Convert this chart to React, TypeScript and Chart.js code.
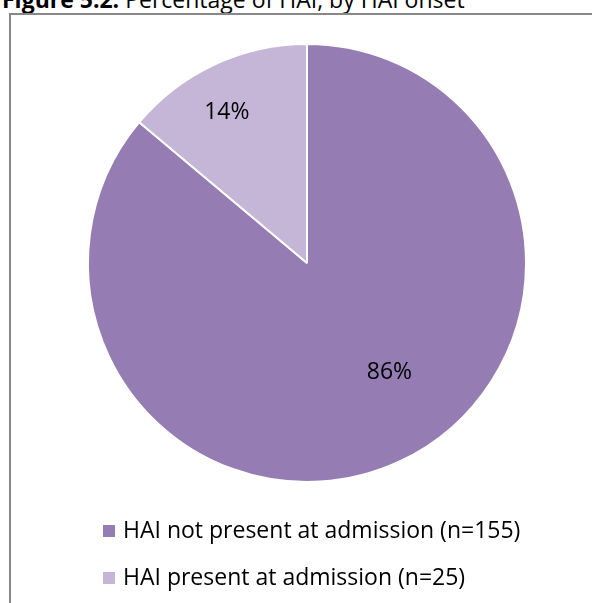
import React, { useEffect, useRef } from "react";
import { Chart, registerables } from "chart.js";

Chart.register(...registerables);

const categories = ["HAI not present at admission (n=155)", "HAI present at admission (n=25)"];
const counts = [155, 25];
const sliceColors = ["#957DB3", "#C5B6D8"];

const FONT = "'Open Sans', 'DejaVu Sans', sans-serif";

const sliceLabelPlugin = {
  id: "sliceLabels",
  afterDatasetsDraw(chart: any, _args: any, opts: any) {
    const meta = chart.getDatasetMeta(0);
    const ctx = chart.ctx;
    const data = chart.data.datasets[0].data as number[];
    const total = data.reduce((a, b) => a + b, 0);
    ctx.save();
    ctx.fillStyle = "#000";
    ctx.font = `${opts.size}px ${FONT}`;
    ctx.textAlign = "center";
    ctx.textBaseline = "middle";
    meta.data.forEach((arc: any, i: number) => {
      const p = arc.getProps(["startAngle", "endAngle", "outerRadius", "x", "y"], true);
      const a = p.startAngle + (p.endAngle - p.startAngle) * opts.angleFrac[i];
      const r = p.outerRadius * opts.radiusFrac[i];
      const pct = Math.round((data[i] / total) * 100) + "%";
      ctx.fillText(pct, p.x + Math.cos(a) * r, p.y + Math.sin(a) * r);
    });
    ctx.restore();
  },
};

const boxLegendPlugin = {
  id: "boxLegend",
  afterDraw(chart: any, _args: any, opts: any) {
    const ctx = chart.ctx;
    const labels = chart.data.labels as string[];
    const colors = chart.data.datasets[0].backgroundColor as string[];
    ctx.save();
    ctx.font = `${opts.size}px ${FONT}`;
    ctx.textBaseline = "middle";
    ctx.textAlign = "left";
    labels.forEach((lab, i) => {
      const cy = opts.top + i * opts.rowGap;
      ctx.fillStyle = colors[i];
      ctx.fillRect(opts.left, cy - opts.box / 2, opts.box, opts.box);
      ctx.fillStyle = "#000";
      ctx.fillText(lab, opts.left + opts.box + opts.gap, cy);
    });
    ctx.restore();
  },
};

export default function App() {
  const ref = useRef<HTMLCanvasElement | null>(null);

  useEffect(() => {
    if (!ref.current) return;
    const chart = new Chart(ref.current, {
      type: "pie",
      data: {
        labels: categories,
        datasets: [
          {
            data: counts,
            backgroundColor: sliceColors,
            borderColor: "#ffffff",
            borderWidth: 2,
          },
        ],
      },
      options: {
        responsive: false,
        animation: false,
        layout: { padding: { left: 87, right: 65, top: 43, bottom: 120 } },
        plugins: {
          legend: { display: false },
          tooltip: { enabled: false },
          title: { display: false },
          sliceLabels: { size: 23, angleFrac: [0.461, 0.44], radiusFrac: [0.624, 0.78] },
          boxLegend: { size: 23, left: 103, top: 531, rowGap: 47, box: 12, gap: 8 },
        } as any,
      },
      plugins: [sliceLabelPlugin, boxLegendPlugin],
    });
    return () => chart.destroy();
  }, []);

  return (
    <div
      style={{
        position: "fixed",
        left: 0,
        top: 0,
        width: 592,
        height: 603,
        overflow: "hidden",
        background: "#fff",
      }}
    >
      <div
        style={{
          position: "absolute",
          left: 2,
          top: -12,
          fontFamily: FONT,
          fontSize: 23,
          lineHeight: 1,
          whiteSpace: "nowrap",
          color: "#000",
        }}
      >
        <b>Figure 5.2.</b> Percentage of HAI, by HAI onset
      </div>
      <div
        style={{
          position: "absolute",
          left: 9,
          top: 13,
          right: 0,
          bottom: 0,
          borderLeft: "2px solid #878787",
          borderTop: "2px solid #878787",
        }}
      />
      <canvas
        ref={ref}
        width={592}
        height={603}
        style={{ position: "absolute", left: 0, top: 0 }}
      />
    </div>
  );
}
